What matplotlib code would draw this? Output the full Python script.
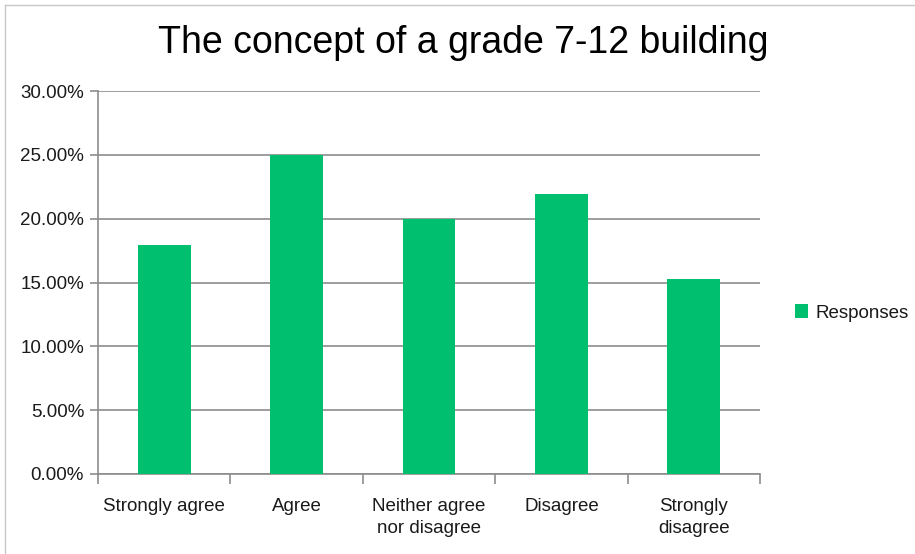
import matplotlib.pyplot as plt
from matplotlib.lines import Line2D
from matplotlib.patches import Patch
from matplotlib.ticker import FuncFormatter, MultipleLocator

categories = ["Strongly agree", "Agree", "Neither agree\nnor disagree", "Disagree", "Strongly\ndisagree"]
responses = [17.9, 25.0, 20.0, 21.9, 15.3]
series_name = "Responses"
title = "The concept of a grade 7-12 building"

BAR = "#00bf6f"
GRID = "#8c8c8c"
TEXT = "#1a1a1a"

plt.rcParams["font.family"] = ["Liberation Sans", "DejaVu Sans"]

fig = plt.figure(figsize=(9.15, 5.54), dpi=100)
ax = fig.add_axes([98 / 915, 1 - 474 / 554, (760 - 98) / 915, (474 - 91) / 554])

x = range(len(categories))
ax.bar(x, responses, width=0.4, color=BAR, zorder=3)

ax.set_xlim(-0.5, len(categories) - 0.5)
ax.set_ylim(0, 30)
ax.yaxis.set_major_locator(MultipleLocator(5))
ax.yaxis.set_major_formatter(FuncFormatter(lambda v, _: f"{v:.2f}%"))
ax.grid(axis="y", color=GRID, linewidth=1.2, zorder=0)

ax.set_xticks(list(x))
ax.set_xticklabels(categories, fontsize=13.5, color=TEXT, linespacing=1.45, va="top")
ax.tick_params(axis="x", length=0, pad=17)
ax.set_xticks([i - 0.5 for i in range(len(categories) + 1)], minor=True)
ax.tick_params(axis="x", which="minor", length=7, color=GRID, width=1.2, direction="out")
ax.tick_params(axis="y", length=6, color=GRID, width=1.2, labelsize=13.5, labelcolor=TEXT, pad=4)

for side in ["top", "right"]:
    ax.spines[side].set_visible(False)
for side in ["left", "bottom"]:
    ax.spines[side].set_color(GRID)
    ax.spines[side].set_linewidth(1.2)

fig.text(463 / 915, 1 - 43 / 554, title, ha="center", va="center", fontsize=27,
         color="black")

fig.legend(handles=[Patch(facecolor=BAR, label=series_name)], loc="center left",
           bbox_to_anchor=(778 / 915, 1 - 313 / 554), frameon=False, fontsize=13.5,
           handlelength=0.7, handleheight=0.7, handletextpad=0.4, labelcolor=TEXT)

# faint spreadsheet edges around the chart
fig.add_artist(Line2D([5 / 915, 5 / 915], [0, 1 - 5 / 554], transform=fig.transFigure, color="#c8c8c8", lw=1))
fig.add_artist(Line2D([5 / 915, 1], [1 - 5 / 554, 1 - 5 / 554], transform=fig.transFigure, color="#c8c8c8", lw=1))

fig.savefig("out.png", dpi=100, facecolor="white")
